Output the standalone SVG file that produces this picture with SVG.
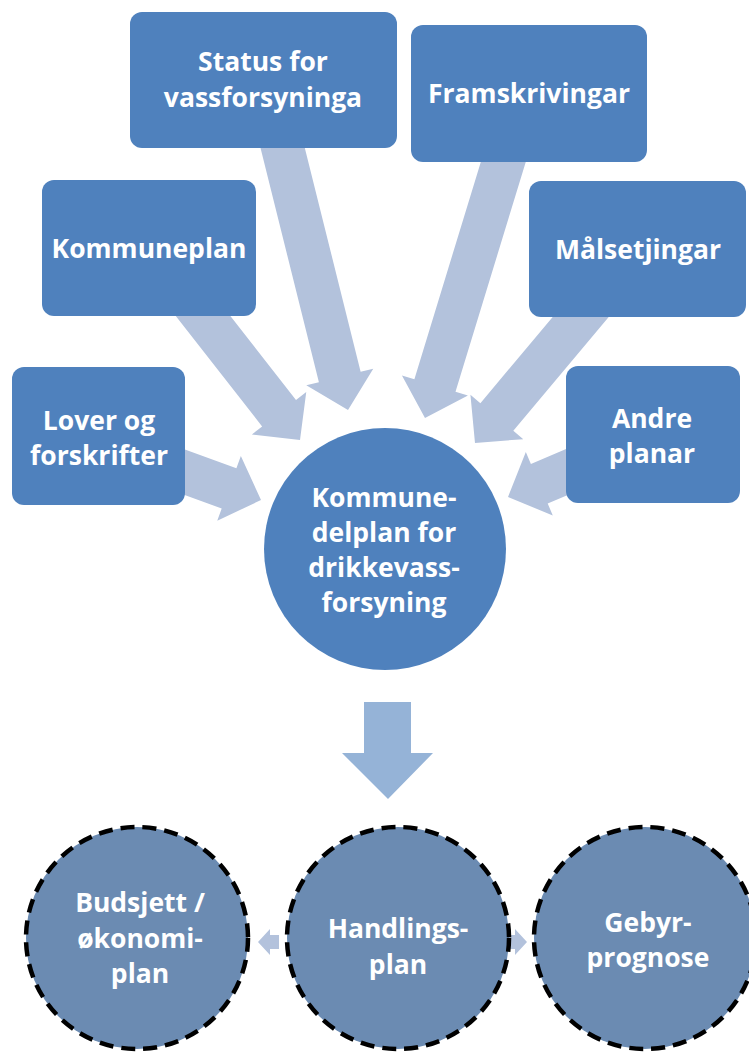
<svg xmlns="http://www.w3.org/2000/svg" width="749" height="1054" viewBox="0 0 749 1054">
<style>
.box{fill:#4f81bd}
.barrow{fill:#b3c2dc}
.t{font-family:"Open Sans","Liberation Sans",sans-serif;font-weight:bold;font-size:26.5px;fill:#ffffff;text-anchor:middle}
.dc{fill:#6b8bb2;stroke:#000000;stroke-width:4.5;stroke-dasharray:14 8}
</style>
<rect width="749" height="1054" fill="#ffffff"/>
<g id="connectors">
<polygon class="barrow" points="0,0 -34,34.5 -34,21.5 -110,21.5 -110,-21.5 -34,-21.5 -34,-34.5" transform="translate(261,500) rotate(20)"/>
<polygon class="barrow" points="0,0 -34,34.5 -34,21.5 -180,21.5 -180,-21.5 -34,-21.5 -34,-34.5" transform="translate(300,440) rotate(52)"/>
<polygon class="barrow" points="0,0 -34,34.5 -34,21.5 -290,21.5 -290,-21.5 -34,-21.5 -34,-34.5" transform="translate(348,410) rotate(76)"/>
<polygon class="barrow" points="0,0 -34,34.5 -34,21.5 -290,21.5 -290,-21.5 -34,-21.5 -34,-34.5" transform="translate(425,418) rotate(107)"/>
<polygon class="barrow" points="0,0 -34,34.5 -34,21.5 -185,21.5 -185,-21.5 -34,-21.5 -34,-34.5" transform="translate(475,443) rotate(130)"/>
<polygon class="barrow" points="0,0 -34,34.5 -34,21.5 -90,21.5 -90,-21.5 -34,-21.5 -34,-34.5" transform="translate(508,497) rotate(157)"/>
<polygon fill="#95b3d7" points="364,702 411,702 411,753 433,753 388,799 342,753 364,753"/>
<polygon class="barrow" points="258,942 270,929 270,935 279,935 279,949 270,949 270,955"/>
<polygon class="barrow" points="527,942 515,929 515,935 506,935 506,949 515,949 515,955"/>
</g>
<g id="status"><rect class="box" x="130" y="12" width="267" height="136" rx="12"/><text class="t" x="263" y="71">Status for</text><text class="t" x="263" y="107">vassforsyninga</text></g>
<g id="framskrivingar"><rect class="box" x="411" y="25" width="236" height="137" rx="12"/><text class="t" x="529" y="103">Framskrivingar</text></g>
<g id="kommuneplan"><rect class="box" x="42" y="180" width="214" height="136" rx="12"/><text class="t" x="149" y="258">Kommuneplan</text></g>
<g id="malsetjingar"><rect class="box" x="529" y="181" width="217" height="136" rx="12"/><text class="t" x="638" y="259">Målsetjingar</text></g>
<g id="lover"><rect class="box" x="12" y="367" width="173" height="138" rx="12"/><text class="t" x="99" y="430">Lover og</text><text class="t" x="99" y="465">forskrifter</text></g>
<g id="andre"><rect class="box" x="566" y="366" width="174" height="137" rx="12"/><text class="t" x="652" y="428">Andre</text><text class="t" x="652" y="463">planar</text></g>
<g id="kommunedelplan"><circle cx="385" cy="549" r="121" fill="#4f81bd"/><text class="t" x="384" y="507">Kommune-</text><text class="t" x="384" y="542">delplan for</text><text class="t" x="384" y="577">drikkevass-</text><text class="t" x="384" y="612">forsyning</text></g>
<g id="budsjett"><circle class="dc" cx="137" cy="938" r="111"/><text class="t" x="140" y="912">Budsjett /</text><text class="t" x="140" y="948">økonomi-</text><text class="t" x="140" y="983">plan</text></g>
<g id="handlingsplan"><circle class="dc" cx="398" cy="938" r="111"/><text class="t" x="398" y="938">Handlings-</text><text class="t" x="398" y="974">plan</text></g>
<g id="gebyr"><circle class="dc" cx="645" cy="938" r="111"/><text class="t" x="648" y="932">Gebyr-</text><text class="t" x="648" y="967">prognose</text></g>
</svg>
